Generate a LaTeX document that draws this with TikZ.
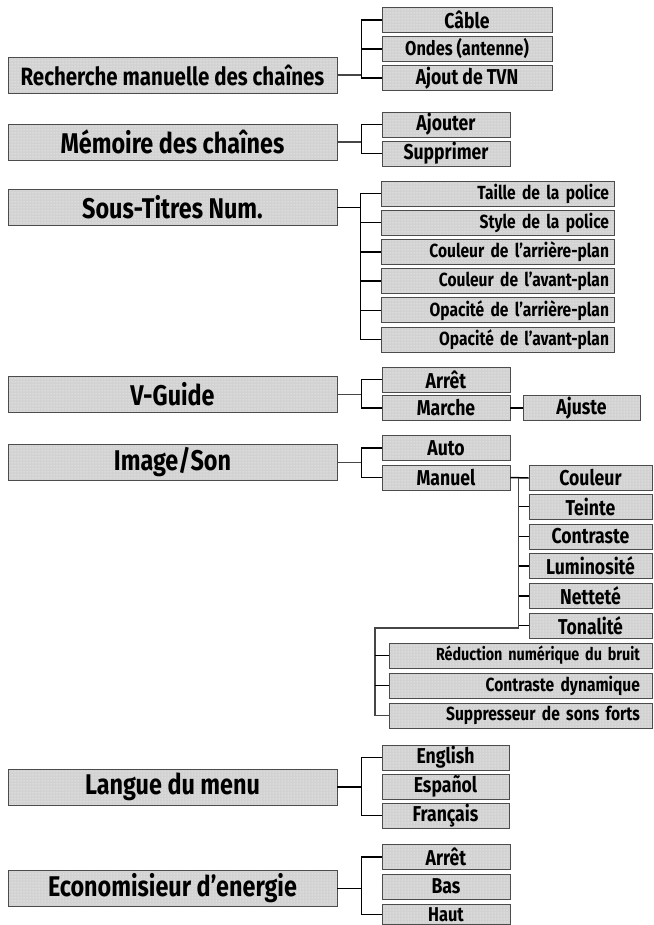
\documentclass[tikz,border=0pt]{standalone}
\usepackage{fontspec}
\setmainfont{Fira Sans}[FakeStretch=0.82]
\usetikzlibrary{patterns}

\begin{document}
\begin{tikzpicture}[
    x=1pt, y=-1pt,
    box/.style={
        rectangle, draw=black!70, line width=0.8pt,
        preaction={fill=gray!35}, pattern=dots, pattern color=white,
        inner sep=0pt, minimum height=25, text=black,
    },
    mainbox/.style={
        box, minimum width=329, minimum height=36,
        font=\fontsize{28.5}{28.5}\selectfont\bfseries,
    },
    item/.style={
        box, font=\fontsize{21.5}{21.5}\selectfont\bfseries,
    },
    subitem/.style={
        box, minimum width=233, text width=223, align=right,
        inner xsep=5pt, font=\fontsize{19}{19}\selectfont\bfseries,
    },
    noiseitem/.style={
        box, minimum width=263, text width=239, align=right,
        inner xsep=12pt, font=\fontsize{19}{19}\selectfont\bfseries,
    },
    link/.style={line width=1.5pt, black},
    stem/.style={line width=1.5pt, gray!55!black},
]
\clip (0,0) rectangle (653,925);

% --- Recherche manuelle des chaines ---
\node[mainbox, font=\fontsize{25}{25}\selectfont\bfseries] (recherche) at (172.5,75) {Recherche manuelle des chaînes};
\node[item, minimum width=170] (cable) at (467,20) {Câble};
\node[item, minimum width=170, font=\fontsize{20}{20}\selectfont\bfseries] (ondes) at (467,49) {Ondes (antenne)};
\node[item, minimum width=170] (ajout) at (467,78) {Ajout de TVN};
\draw[stem] (recherche.east) -- ++(25,0);
\draw[link] (cable.west) -- ++(-20,0) |- (ajout.west);
\draw[link] (ondes.west) -- ++(-20,0);

% --- Memoire des chaines ---
\node[mainbox] (memoire) at (172.5,142) {Mémoire des chaînes};
\node[item, minimum width=128] (ajouter) at (446,124.5) {Ajouter};
\node[item, minimum width=128] (supprimer) at (446,153.5) {Supprimer};
\draw[stem] (memoire.east) -- ++(25,0);
\draw[link] (ajouter.west) -- ++(-20,0) |- (supprimer.west);

% --- Sous-Titres Num. ---
\node[mainbox] (soustitres) at (172.5,207.5) {Sous-Titres Num.};
\node[subitem] (taille) at (497.5,193.5) {Taille de la police};
\node[subitem] (style) at (497.5,222.7) {Style de la police};
\node[subitem] (coularr) at (497.5,251.9) {Couleur de l’arrière-plan};
\node[subitem] (coulav) at (497.5,281.1) {Couleur de l’avant-plan};
\node[subitem] (opacarr) at (497.5,310.3) {Opacité de l’arrière-plan};
\node[subitem] (opacav) at (497.5,339.5) {Opacité de l’avant-plan};
\draw[link] (soustitres.east) -- ++(24,0);
\draw[link] (taille.west) -- ++(-20,0) |- (opacav.west);
\draw[link] (style.west) -- ++(-20,0);
\draw[link] (coularr.west) -- ++(-20,0);
\draw[link] (coulav.west) -- ++(-20,0);
\draw[link] (opacarr.west) -- ++(-20,0);

% --- V-Guide ---
\node[mainbox] (vguide) at (172.5,394.5) {V-Guide};
\node[item, minimum width=128] (arret) at (446,379.5) {Arrêt};
\node[item, minimum width=128] (marche) at (446,408) {Marche};
\node[item, minimum width=117] (ajuste) at (581.5,408) {Ajuste};
\draw[stem] (vguide.east) -- ++(25,0);
\draw[link] (arret.west) -- ++(-20,0) |- (marche.west);
\draw[link] (marche.east) -- (ajuste.west);

% --- Image/Son ---
\node[mainbox] (image) at (172.5,462.5) {Image/Son};
\node[item, minimum width=128] (auto) at (446,448) {Auto};
\node[item, minimum width=128] (manuel) at (446,477.5) {Manuel};
\draw[stem] (image.east) -- ++(25,0);
\draw[link] (auto.west) -- ++(-20,0) |- (manuel.west);

% Manuel
\node[item, minimum width=123] (couleur) at (590.5,478) {Couleur};
\node[item, minimum width=123] (teinte) at (590.5,506.5) {Teinte};
\node[item, minimum width=123] (contraste) at (590.5,536.5) {Contraste};
\node[item, minimum width=123] (luminosite) at (590.5,566) {Luminosité};
\node[item, minimum width=123] (nettete) at (590.5,596) {Netteté};
\node[item, minimum width=123] (tonalite) at (590.5,625.5) {Tonalité};
\node[noiseitem, font=\fontsize{17.5}{17.5}\selectfont\bfseries] (reduction) at (520.5,655.5) {Réduction numérique du bruit};
\node[noiseitem] (contrdyn) at (520.5,685.5) {Contraste dynamique};
\node[noiseitem] (suppresseur) at (520.5,715.5) {Suppresseur de sons forts};
\coordinate (bend) at (375,628);
\draw[link] (manuel.east) -- (couleur.west);
\draw[stem] ([xshift=-10pt]couleur.west) |- (bend) |- (suppresseur.west);
\draw[link] (teinte.west) -- ++(-10,0);
\draw[link] (contraste.west) -- ++(-10,0);
\draw[link] (luminosite.west) -- ++(-10,0);
\draw[link] (nettete.west) -- ++(-10,0);
\draw[link] (tonalite.west) -- ++(-10,0);
\draw[link] (reduction.west) -- ++(-14,0);
\draw[link] (contrdyn.west) -- ++(-14,0);

% --- Langue du menu ---
\node[mainbox] (langue) at (172.5,787) {Langue du menu};
\node[item, minimum width=127] (english) at (445.5,757.5) {English};
\node[item, minimum width=127] (espanol) at (445.5,786.5) {Español};
\node[item, minimum width=127] (francais) at (445.5,815.5) {Français};
\draw[link] (langue.east) -- ++(24,0);
\draw[link] (english.west) -- ++(-20,0) |- (francais.west);

% --- Economisieur d'energie ---
\node[mainbox] (eco) at (172.5,888.5) {Economisieur d’energie};
\node[item, minimum width=128] (arretbis) at (446,857) {Arrêt};
\node[item, minimum width=128] (bas) at (446,886.5) {Bas};
\node[item, minimum width=128, minimum height=20, font=\fontsize{20}{20}\selectfont\bfseries] (haut) at (446,914.5) {Haut};
\draw[link] (eco.east) -- ++(24,0);
\draw[link] (arretbis.west) -- ++(-20,0) |- (haut.west);

\end{tikzpicture}
\end{document}
